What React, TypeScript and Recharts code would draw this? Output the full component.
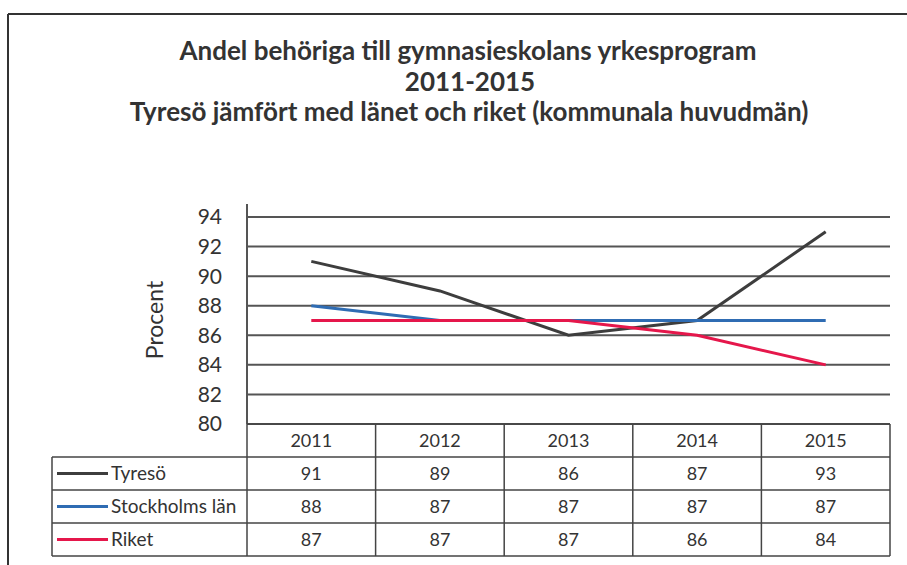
import { LineChart, Line, XAxis, YAxis, CartesianGrid } from "recharts";

const years = ["2011", "2012", "2013", "2014", "2015"];
const tyreso = [91, 89, 86, 87, 93];
const stockholm = [88, 87, 87, 87, 87];
const riket = [87, 87, 87, 86, 84];
const yTicks = [80, 82, 84, 86, 88, 90, 92, 94];

const series = [
  { key: "tyreso", name: "Tyresö", color: "#3d3d3d", values: tyreso },
  { key: "stockholm", name: "Stockholms län", color: "#2f6cb3", values: stockholm },
  { key: "riket", name: "Riket", color: "#e5174b", values: riket },
];

const data = years.map((year, i) => ({
  year,
  tyreso: tyreso[i],
  stockholm: stockholm[i],
  riket: riket[i],
}));

const W = 907;
const H = 565;
const PLOT_L = 247;
const PLOT_R = 890;
const PLOT_T = 217;
const PLOT_B = 424;
const ROW_H = 33;
const LEGEND_L = 52;
const FONT = "Lato, 'Open Sans', sans-serif";
const TEXT = "#333";

export default function App() {
  const band = (PLOT_R - PLOT_L) / years.length;
  const colX = years.map((_, i) => PLOT_L + band * i);

  return (
    <div style={{ position: "absolute", left: 0, top: 0, width: W, height: H, background: "#fff", fontFamily: FONT }}>
      <LineChart
        width={W}
        height={H}
        data={data}
        margin={{ top: PLOT_T, right: W - PLOT_R, bottom: H - PLOT_B, left: PLOT_L - 60 }}
      >
        <CartesianGrid horizontal vertical={false} stroke="#555" strokeWidth={2} />
        <XAxis dataKey="year" hide padding={{ left: band / 2, right: band / 2 }} />
        <YAxis
          width={60}
          domain={[80, 94]}
          ticks={yTicks}
          interval={0}
          tickSize={0}
          tickMargin={25}
          axisLine={{ stroke: "#555", strokeWidth: 2 }}
          tick={{ fill: TEXT, fontSize: 21, fontFamily: FONT }}
        />
        {series.map((s) => (
          <Line
            key={s.key}
            dataKey={s.key}
            name={s.name}
            stroke={s.color}
            strokeWidth={3}
            dot={false}
            isAnimationActive={false}
          />
        ))}
      </LineChart>

      <svg width={W} height={H} style={{ position: "absolute", left: 0, top: 0, pointerEvents: "none" }}>
        {/* outer frame */}
        <line x1={8} y1={14} x2={W} y2={14} stroke="#333" strokeWidth={2} />
        <line x1={8} y1={14} x2={8} y2={H} stroke="#333" strokeWidth={2} />

        {/* title */}
        <g fill={TEXT} fontFamily={FONT} fontWeight={700} fontSize={26} textAnchor="middle">
          <text x={468} y={60}>Andel behöriga till gymnasieskolans yrkesprogram</text>
          <text x={470} y={91}>2011-2015</text>
          <text x={469} y={121}>Tyresö jämfört med länet och riket (kommunala huvudmän)</text>
        </g>

        {/* axis extension + y label */}
        <line x1={PLOT_L} y1={204} x2={PLOT_L} y2={PLOT_T} stroke="#555" strokeWidth={2} />
        <text
          x={0}
          y={0}
          transform="translate(163 320) rotate(-90)"
          textAnchor="middle"
          fill={TEXT}
          fontSize={23}
          fontFamily={FONT}
        >
          Procent
        </text>

        {/* data table */}
        <g stroke="#444" strokeWidth={1.5} fill="none">
          <line x1={PLOT_L} y1={PLOT_B} x2={PLOT_R} y2={PLOT_B} />
          {[1, 2, 3, 4].map((r) => (
            <line key={r} x1={LEGEND_L} y1={PLOT_B + ROW_H * r} x2={PLOT_R} y2={PLOT_B + ROW_H * r} />
          ))}
          {colX.concat([PLOT_R]).map((x, i) => (
            <line key={i} x1={x} y1={PLOT_B} x2={x} y2={PLOT_B + ROW_H * 4} />
          ))}
          <line x1={LEGEND_L} y1={PLOT_B + ROW_H} x2={LEGEND_L} y2={PLOT_B + ROW_H * 4} />
        </g>
        <g fill={TEXT} fontFamily={FONT} fontSize={18} textAnchor="middle">
          {years.map((y, i) => (
            <text key={y} x={colX[i] + band / 2} y={PLOT_B + ROW_H / 2 + 6}>
              {y}
            </text>
          ))}
          {series.map((s, r) =>
            s.values.map((v, i) => (
              <text key={s.key + i} x={colX[i] + band / 2} y={PLOT_B + ROW_H * (r + 1) + ROW_H / 2 + 6}>
                {v}
              </text>
            ))
          )}
        </g>
        {series.map((s, r) => {
          const cy = PLOT_B + ROW_H * (r + 1) + ROW_H / 2;
          return (
            <g key={s.key}>
              <line x1={57} y1={cy} x2={108} y2={cy} stroke={s.color} strokeWidth={3} />
              <text x={111} y={cy + 6} fill={TEXT} fontSize={19} fontFamily={FONT}>
                {s.name}
              </text>
            </g>
          );
        })}
      </svg>
    </div>
  );
}
